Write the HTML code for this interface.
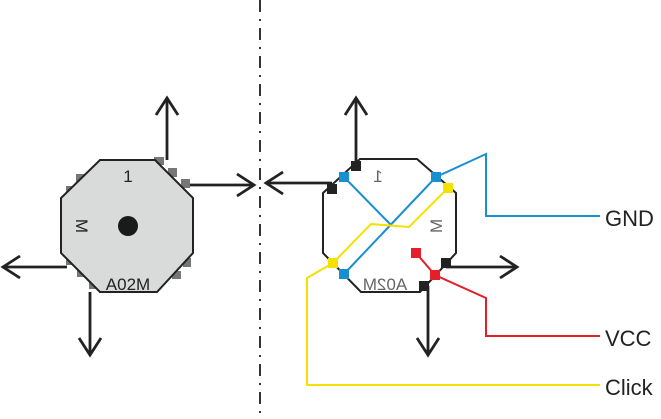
<!DOCTYPE html>
<html><head><style>body{margin:0;background:#fff}svg{display:block}</style></head><body>
<svg width="661" height="419" viewBox="0 0 661 419" xmlns="http://www.w3.org/2000/svg" font-family="Liberation Sans, sans-serif">
<line x1="260" y1="0" x2="260" y2="419" stroke="#333" stroke-width="2" stroke-dasharray="12 7 2 7"/>
<!-- left part -->
<g fill="#777">
<rect x="154" y="157" width="10" height="8"/><rect x="168" y="168" width="9" height="9"/><rect x="181" y="179" width="9" height="9"/>
<rect x="76" y="174" width="9" height="9"/><rect x="66" y="186" width="8" height="9"/>
<rect x="183" y="258" width="8" height="9"/><rect x="172" y="271" width="9" height="8"/>
<rect x="66" y="256" width="9" height="9"/><rect x="77" y="268" width="9" height="9"/><rect x="89" y="280" width="8" height="9"/>
</g>
<polygon points="100,160 155,160 193,198 193,253 157,292 100,292 61,253 61,198" fill="#d9dada" stroke="#222" stroke-width="2"/>
<circle cx="128" cy="226" r="10" fill="#1a1a1a"/>
<text x="128" y="182" font-size="17" text-anchor="middle" fill="#222">1</text>
<text x="128" y="290" font-size="17" text-anchor="middle" fill="#222">A02M</text>
<text transform="translate(76,226) rotate(90)" font-size="17" text-anchor="middle" fill="#222">M</text>
<g stroke="#222" stroke-width="2.8" fill="none">
<line x1="167" y1="160" x2="167" y2="98"/><polyline points="156,115 167,98 178,115"/>
<line x1="190" y1="185" x2="254" y2="185"/><polyline points="237,174 254,185 237,196"/>
<line x1="67" y1="267" x2="3" y2="267"/><polyline points="20,256 3,267 20,278"/>
<line x1="90" y1="292" x2="90" y2="355"/><polyline points="79,338 90,355 101,338"/>
</g>
<!-- right part -->
<polygon points="360,159 417,159 456,193 456,253 420,292 361,292 323,253 323,193" fill="none" stroke="#222" stroke-width="2"/>
<text x="378" y="182" font-size="17" text-anchor="middle" fill="#666" transform="translate(756,0) scale(-1,1)">1</text>
<text x="385" y="290" font-size="17" text-anchor="middle" fill="#666" transform="translate(770,0) scale(-1,1)">A02M</text>
<text transform="translate(442,226) rotate(-90) scale(-1,1)" font-size="17" text-anchor="middle" fill="#666">M</text>
<g stroke="#222" stroke-width="2.8" fill="none">
<line x1="356" y1="166" x2="356" y2="98"/><polyline points="345,115 356,98 367,115"/>
<line x1="332" y1="183" x2="266" y2="183"/><polyline points="283,172 266,183 283,194"/>
<line x1="446" y1="267" x2="517" y2="267"/><polyline points="500,256 517,267 500,278"/>
<line x1="428" y1="286" x2="428" y2="355"/><polyline points="417,338 428,355 439,338"/>
</g>
<g fill="#222"><rect x="351" y="161" width="10" height="10"/><rect x="327" y="184" width="10" height="10"/><rect x="441" y="258" width="10" height="10"/><rect x="419" y="281" width="10" height="10"/></g>
<g fill="none" stroke-width="2">
<polyline points="344,177 392,226" stroke="#1a8fd0"/>
<polyline points="344,274 436,177 486,154 486,216 600,216" stroke="#1a8fd0"/>
<polyline points="448,188 409,227 371,224 333,263 307,278 307,385 600,385" stroke="#f5e100"/>
<polyline points="416,253 435,275 486,298 486,336 600,336" stroke="#e3202a"/>
</g>
<g fill="#1a8fd0"><rect x="339" y="172" width="10" height="10"/><rect x="431" y="172" width="10" height="10"/><rect x="339" y="269" width="10" height="10"/></g>
<g fill="#f5e100"><rect x="443" y="183" width="10" height="10"/><rect x="328" y="258" width="10" height="10"/></g>
<g fill="#e3202a"><rect x="411" y="248" width="10" height="10"/><rect x="430" y="270" width="10" height="10"/></g>
<g font-size="22" fill="#222">
<text x="605" y="226">GND</text><text x="605" y="346">VCC</text><text x="605" y="395">Click</text>
</g>
</svg>
</body></html>
